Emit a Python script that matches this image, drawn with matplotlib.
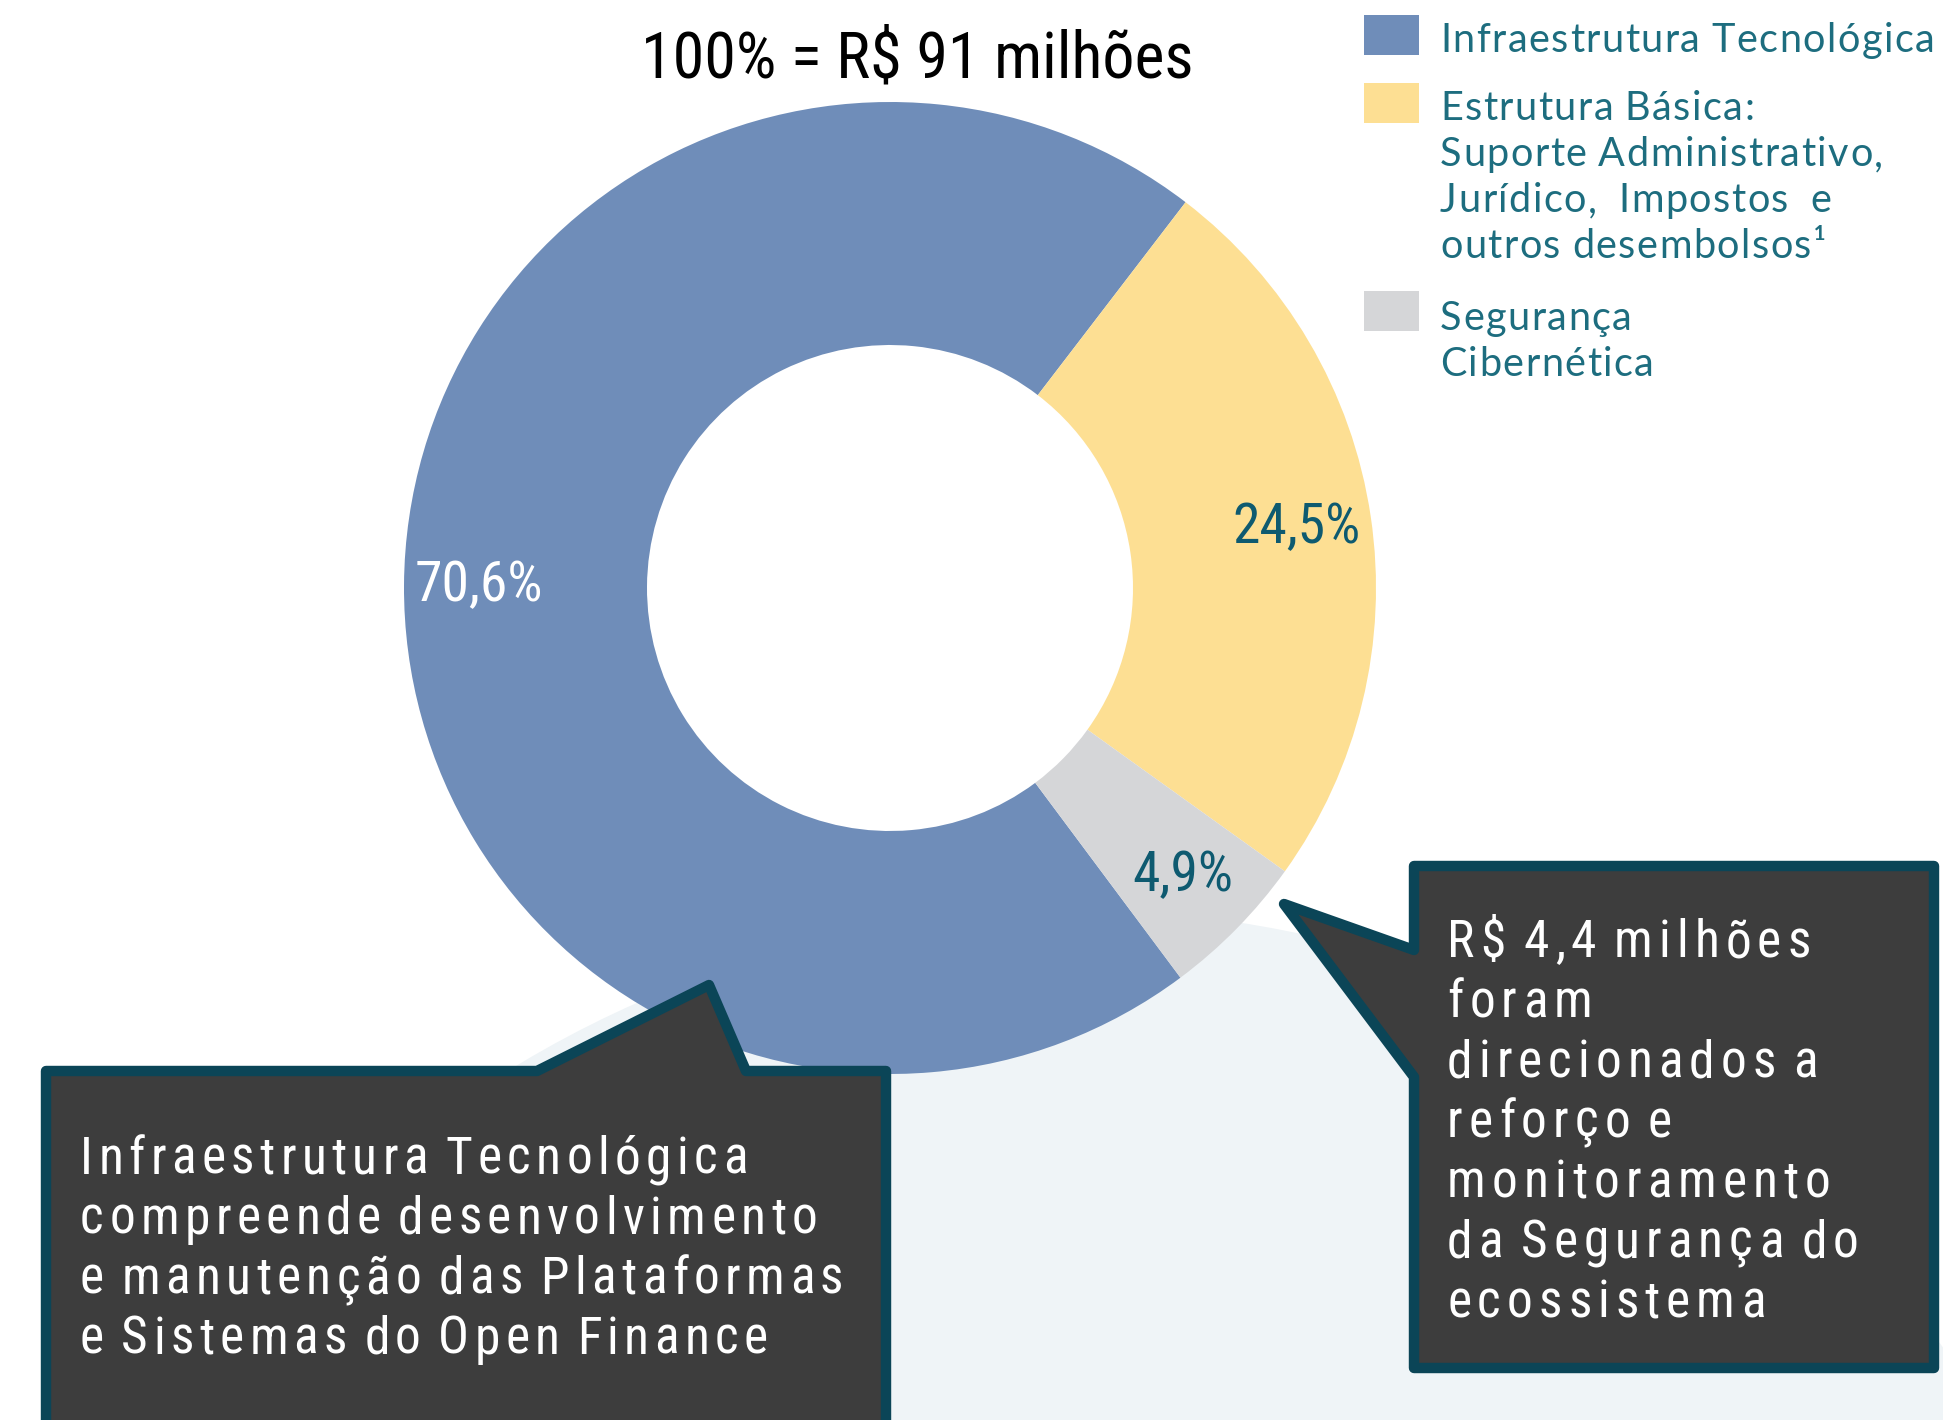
import matplotlib
matplotlib.use('Agg')
import matplotlib.pyplot as plt
from matplotlib import font_manager
from matplotlib.font_manager import FontProperties
from matplotlib.textpath import TextToPath
from matplotlib.patches import Circle, Polygon, Rectangle

# data
categories = ['Infraestrutura Tecnológica', 'Estrutura Básica', 'Segurança Cibernética']
shares = [70.6, 24.5, 4.9]
colors = ['#6F8DB9', '#FDDF93', '#D5D6D8']
legend_labels = ['Infraestrutura Tecnológica',
                 'Estrutura Básica:\nSuporte Administrativo,\nJurídico,  Impostos  e\noutros desembolsos¹',
                 'Segurança\nCibernética']
title = '100% = R$ 91 milhões'
note_left = ['Infraestrutura Tecnológica', 'compreende desenvolvimento',
             'e manutenção das Plataformas', 'e Sistemas do Open Finance']
note_right = ['R$ 4,4 milhões', 'foram', 'direcionados a', 'reforço e',
              'monitoramento', 'da Segurança do', 'ecossistema']

W, H = 1943, 1420
DPI = 100

available = {f.name for f in font_manager.fontManager.ttflist}
def pick(names):
    for n in names:
        if n in available:
            return n
    return 'DejaVu Sans'

narrow = pick(['Roboto Condensed', 'Liberation Sans Narrow', 'DejaVu Sans Condensed', 'Liberation Sans'])
legfont = pick(['Lato', 'Open Sans', 'DejaVu Sans'])

def Y(y):
    # pixel rows measured from the top
    return H - y

t2p = TextToPath()

def tracked(ax, x, y, s, size, track, family, **kw):
    # letter-spaced text: each char goes after the prefix width plus tracking
    # (a space only gets one tracking step, so words stay fairly tight)
    prop = FontProperties(family=family, size=size)
    gaps = 0
    for i, ch in enumerate(s):
        if ch == ' ':
            continue
        if i:
            gaps += 1
        w = t2p.get_text_width_height_descent(s[:i], prop, ismath=False)[0] if i else 0
        ax.text(x + w * DPI / 72 + gaps * track, y, ch, ha='left', va='baseline',
                fontproperties=prop, **kw)

fig = plt.figure(figsize=(W / DPI, H / DPI), dpi=DPI)
ax = fig.add_axes([0, 0, 1, 1])

# light background circle
ax.add_patch(Circle((1075, Y(1990)), 1080, color='#EFF4F7', zorder=0, lw=0))

cx, cy, R = 890, Y(588), 486
wedges, texts, autotexts = ax.pie(
    shares, colors=colors, startangle=-53.3, counterclock=False,
    center=(cx, cy), radius=R, pctdistance=0.845,
    autopct=lambda p: f'{p:.1f}%'.replace('.', ','),
    wedgeprops=dict(width=R * 0.5, linewidth=0),
    textprops=dict(fontsize=40, family=narrow))
for t, c in zip(autotexts, ['white', '#0E5A70', '#0E5A70']):
    t.set_color(c)

ax.text(917, Y(77), title, ha='center', va='baseline', fontsize=46,
        family=narrow, color='black')

# legend
sq_tops = [15, 83, 291]
first_base = [52, 120, 330]
for lab, col, top, base in zip(legend_labels, colors, sq_tops, first_base):
    ax.add_patch(Rectangle((1364, Y(top + 40)), 55, 40, color=col, lw=0))
    for i, line in enumerate(lab.split('\n')):
        tracked(ax, 1440, Y(base + i * 46), line, 28.5, 1.5, legfont, color='#1D6D7F')

edge = '#0B4557'
fill = '#3D3D3D'

# left callout
left_pts = [(46, 1071), (537, 1071), (709, 985), (746, 1071), (886, 1071),
            (886, 1460), (46, 1460)]
ax.add_patch(Polygon([(x, Y(y)) for x, y in left_pts], closed=True, facecolor=fill,
                     edgecolor=edge, lw=7.5, joinstyle='round', zorder=5))
for i, line in enumerate(note_left):
    tracked(ax, 80, Y(1174 + i * 60), line, 37, 5.4, narrow, color='white', zorder=6)

# right callout
right_pts = [(1414, 866), (1934, 866), (1934, 1368), (1414, 1368), (1414, 1077),
             (1284, 904), (1414, 950)]
ax.add_patch(Polygon([(x, Y(y)) for x, y in right_pts], closed=True, facecolor=fill,
                     edgecolor=edge, lw=7.5, joinstyle='round', zorder=5))
for i, line in enumerate(note_right):
    tracked(ax, 1447, Y(957 + i * 60), line, 37, 6.0, narrow, color='white', zorder=6)

ax.set_xlim(0, W)
ax.set_ylim(0, H)
ax.set_aspect('equal')
ax.axis('off')

fig.savefig('out.png', dpi=DPI)
